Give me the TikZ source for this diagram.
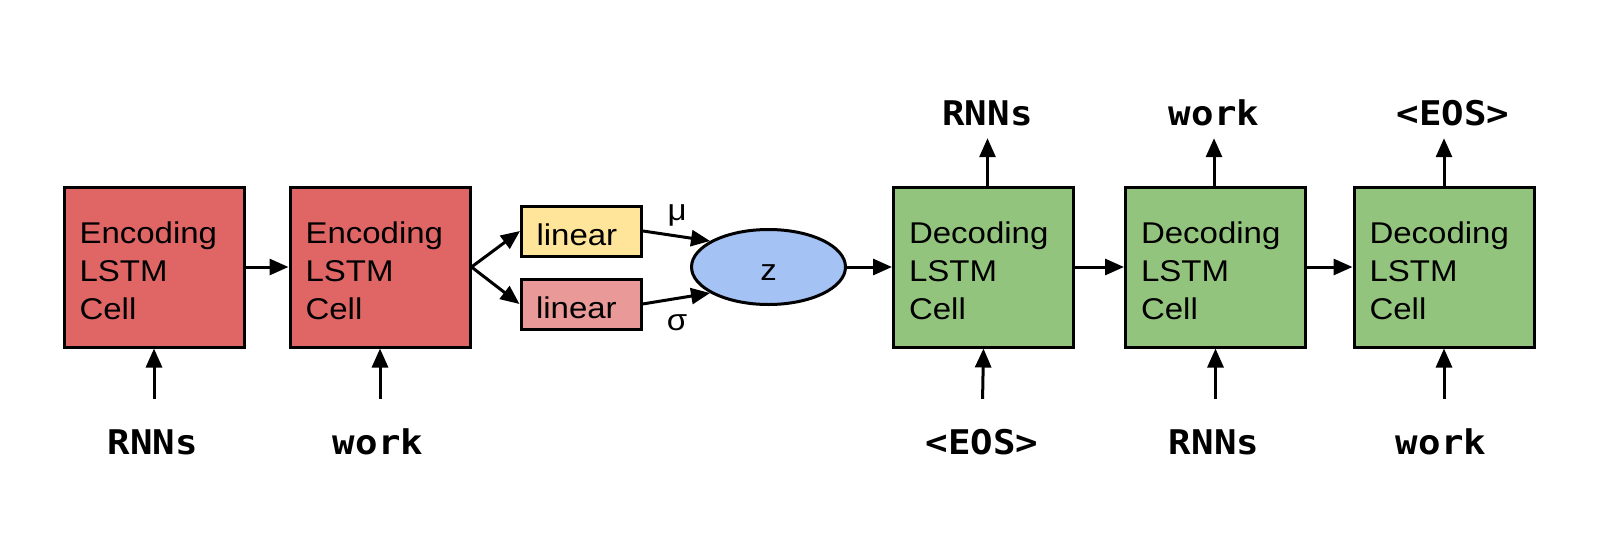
\documentclass[tikz,border=0pt]{standalone}
\usepackage{fontspec}
\setmainfont{Liberation Sans}[FakeStretch=1.1]
\newfontfamily\monof{DejaVu Sans Mono}[FakeStretch=1.1]
\usetikzlibrary{arrows.meta,shapes.geometric}
\definecolor{encred}{HTML}{E06666}
\definecolor{linyellow}{HTML}{FFE599}
\definecolor{linpink}{HTML}{EA9999}
\definecolor{zblue}{HTML}{A4C2F4}
\definecolor{decgreen}{HTML}{93C47D}
\newcommand{\firstline}{\rule{0pt}{29pt}}
\begin{document}
\begin{tikzpicture}[x=1pt,y=-1pt,
  cell/.style={draw, line width=3pt, minimum width=180pt, minimum height=160pt,
    text width=149pt, inner xsep=15.5pt, align=left, font=\fontsize{30}{38}\selectfont},
  encbox/.style={cell, fill=encred},
  decbox/.style={cell, fill=decgreen},
  linbox/.style={draw, line width=3pt, minimum width=120pt, minimum height=50pt,
    text width=90pt, inner xsep=15pt, align=left, text height=29pt, text depth=0pt,
    font=\fontsize{30}{38}\selectfont},
  zell/.style={ellipse, draw, line width=3pt, fill=zblue, minimum width=154pt, minimum height=75pt,
    inner sep=0pt, text height=26pt, text depth=0pt, font=\fontsize{30}{38}\selectfont},
  word/.style={font=\monof\bfseries\fontsize{34}{40}\selectfont, inner sep=0pt,
    text height=25pt, text depth=7pt, anchor=base},
  greek/.style={font=\fontsize{30}{38}\selectfont, inner sep=0pt, anchor=base},
  arr/.style={line width=3pt, -{Triangle[length=19pt,width=16pt]}}
]
\useasboundingbox (0,0) rectangle (1602,536);

% encoder cells
\node[encbox] (e1) at (154,267) {\firstline Encoding\\LSTM\\Cell};
\node[encbox] (e2) at (380,267) {\firstline Encoding\\LSTM\\Cell};

% linear layers and z
\node[linbox, fill=linyellow] (l1) at (581.5,231) {linear};
\node[linbox, fill=linpink] (l2) at (581,304) {linear};
\node[zell] (z) at (768.5,267) {z};

% decoder cells
\node[decbox] (d1) at (983.5,267) {\firstline Decoding\\LSTM\\Cell};
\node[decbox] (d2) at (1215.5,267) {\firstline Decoding\\LSTM\\Cell};
\node[decbox] (d3) at (1444,267) {\firstline Decoding\\LSTM\\Cell};

% input words
\node[word] (i1) at (153,454) {RNNs};
\node[word] (i2) at (378,454) {work};
\node[word] (i3) at (982,454) {<EOS>};
\node[word] (i4) at (1214,454) {RNNs};
\node[word] (i5) at (1441,454) {work};

% output words
\node[word] (o1) at (987.5,125) {RNNs};
\node[word] (o2) at (1214,125) {work};
\node[word] (o3) at (1453,125) {<EOS>};

% greek labels
\node[greek] (mu) at (677,220) {μ};
\node[greek] (sg) at (677,330) {σ};

% horizontal connectors
\draw[arr] (e1.east) -- (e2.west);
\draw[arr] (e2.east) -- (l1.west);
\draw[arr] (e2.east) -- (l2.west);
\draw[arr] (l1.east) -- (z.156);
\draw[arr] (l2.east) -- (z.204);
\draw[arr] (z.east) -- (d1.west);
\draw[arr] (d1.east) -- (d2.west);
\draw[arr] (d2.east) -- (d3.west);

% inputs
\draw[arr, shorten <=30pt] (e1.south |- i1.north) -- (e1.south);
\draw[arr, shorten <=30pt] (e2.south |- i2.north) -- (e2.south);
\draw[arr, shorten <=30pt] (i3.north) -- (d1.south);
\draw[arr, shorten <=30pt] (d2.south |- i4.north) -- (d2.south);
\draw[arr, shorten <=30pt] (d3.south |- i5.north) -- (d3.south);

% outputs
\draw[arr, shorten >=6pt] (o1.south |- d1.north) -- (o1.south);
\draw[arr, shorten >=6pt] (o2.south |- d2.north) -- (o2.south);
\draw[arr, shorten >=6pt] (d3.north) -- (d3.north |- o3.south);
\end{tikzpicture}
\end{document}
